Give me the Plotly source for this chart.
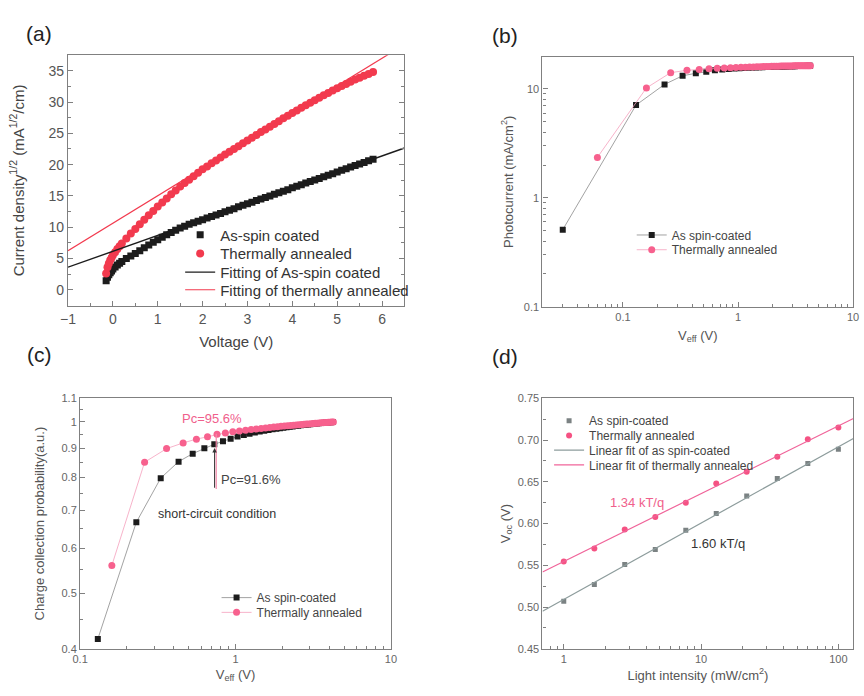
import math
import plotly.graph_objects as go

W, H = 864, 696
FONT = "Liberation Sans, Arial, sans-serif"

# ---------------- Panel (a) data ----------------
V_AS = [-0.15, -0.12, -0.09, -0.06, -0.03, 0.0, 0.05, 0.1, 0.15, 0.2, 0.3, 0.4, 0.5, 0.6, 0.7, 0.8, 0.9,
        1.0, 1.1, 1.2, 1.3, 1.4, 1.5, 1.6, 1.7, 1.8, 1.9, 2.0, 2.1, 2.2, 2.3, 2.4, 2.5, 2.6, 2.7, 2.8, 2.9,
        3.0, 3.1, 3.2, 3.3, 3.4, 3.5, 3.6, 3.7, 3.8, 3.9, 4.0, 4.1, 4.2, 4.3, 4.4, 4.5, 4.6, 4.7, 4.8, 4.9,
        5.0, 5.1, 5.2, 5.3, 5.4, 5.5, 5.6, 5.7, 5.8]
J_AS = [1.45, 2.0, 2.4, 2.7, 3.0, 3.3, 3.65, 3.95, 4.25, 4.5, 5.0, 5.4, 5.8, 6.25, 6.7, 7.15, 7.6,
        8.0, 8.4, 8.8, 9.15, 9.5, 9.85, 10.15, 10.45, 10.7, 10.95, 11.2, 11.45, 11.7, 11.95, 12.2, 12.45, 12.7, 12.95, 13.25, 13.5,
        13.75, 14.0, 14.25, 14.5, 14.75, 15.0, 15.25, 15.5, 15.75, 16.0, 16.3, 16.55, 16.8, 17.05, 17.3, 17.55, 17.8, 18.05, 18.3, 18.55,
        18.8, 19.1, 19.35, 19.6, 19.85, 20.1, 20.35, 20.6, 20.85]
V_TA = [-0.15, -0.12, -0.09, -0.06, -0.03, 0.0, 0.05, 0.1, 0.15, 0.2, 0.3, 0.4, 0.5, 0.6, 0.7, 0.8, 0.9,
        1.0, 1.1, 1.2, 1.3, 1.4, 1.5, 1.6, 1.7, 1.8, 1.9, 2.0, 2.1, 2.2, 2.3, 2.4, 2.5, 2.6, 2.7, 2.8, 2.9,
        3.0, 3.1, 3.2, 3.3, 3.4, 3.5, 3.6, 3.7, 3.8, 3.9, 4.0, 4.1, 4.2, 4.3, 4.4, 4.5, 4.6, 4.7, 4.8, 4.9,
        5.0, 5.1, 5.2, 5.3, 5.4, 5.5, 5.6, 5.7, 5.8]
J_TA = [2.6, 3.6, 4.2, 4.7, 5.1, 5.5, 6.0, 6.5, 6.95, 7.4, 8.2, 9.0, 9.7, 10.45, 11.2, 11.9, 12.6,
        13.3, 13.95, 14.6, 15.25, 15.85, 16.5, 17.05, 17.6, 18.15, 18.7, 19.25, 19.7, 20.2, 20.65, 21.15, 21.6, 22.05, 22.5, 22.95, 23.4,
        23.85, 24.3, 24.75, 25.2, 25.6, 26.05, 26.5, 26.95, 27.4, 27.8, 28.25, 28.65, 29.1, 29.5, 29.9, 30.3, 30.7, 31.1, 31.45, 31.85,
        32.2, 32.55, 32.9, 33.25, 33.6, 33.9, 34.2, 34.5, 34.8]
FIT_V = [-1.0, 6.5]
FIT_AS = [3.6, 22.66]
FIT_TA = [6.23, 39.2]

# ---------------- Panel (b) data ----------------
VEFF_B_AS = [0.03, 0.13, 0.23, 0.33, 0.43, 0.53, 0.63, 0.73, 0.83, 0.93, 1.03, 1.13, 1.23, 1.33, 1.43,
             1.53, 1.63, 1.73, 1.83, 1.93, 2.03, 2.13, 2.23, 2.33, 2.43, 2.53, 2.63, 2.73, 2.83, 2.93,
             3.03, 3.13, 3.23, 3.33, 3.43, 3.53, 3.63, 3.73, 3.83, 3.93, 4.03, 4.13, 4.23]
JPH_AS = [0.51, 7.1, 11.0, 13.2, 13.9, 14.4, 14.8, 15.05, 15.2, 15.35, 15.45, 15.55, 15.62, 15.68, 15.73,
          15.78, 15.82, 15.86, 15.89, 15.92, 15.95, 15.98, 16.0, 16.02, 16.05, 16.07, 16.09, 16.1, 16.12, 16.14,
          16.15, 16.17, 16.18, 16.2, 16.21, 16.22, 16.23, 16.24, 16.25, 16.26, 16.27, 16.28, 16.29]
VEFF_B_TA = [0.06, 0.16, 0.26, 0.36, 0.46, 0.56, 0.66, 0.76, 0.86, 0.96, 1.06, 1.16, 1.26, 1.36, 1.46,
             1.56, 1.66, 1.76, 1.86, 1.96, 2.06, 2.16, 2.26, 2.36, 2.46, 2.56, 2.66, 2.76, 2.86, 2.96,
             3.06, 3.16, 3.26, 3.36, 3.46, 3.56, 3.66, 3.76, 3.86, 3.96, 4.06, 4.16, 4.26]
JPH_TA = [2.35, 10.2, 14.1, 14.8, 15.1, 15.3, 15.45, 15.55, 15.65, 15.72, 15.78, 15.83, 15.88, 15.92, 15.96,
          15.99, 16.02, 16.05, 16.08, 16.1, 16.12, 16.14, 16.16, 16.18, 16.2, 16.21, 16.22, 16.24, 16.25, 16.26,
          16.27, 16.28, 16.29, 16.3, 16.31, 16.32, 16.32, 16.33, 16.33, 16.34, 16.34, 16.35, 16.35]

# ---------------- Panel (c) data ----------------
VEFF_C_AS = [0.13, 0.23, 0.33, 0.43, 0.53, 0.63, 0.73, 0.83, 0.93, 1.03, 1.13, 1.23, 1.33, 1.43,
             1.53, 1.63, 1.73, 1.83, 1.93, 2.03, 2.13, 2.23, 2.33, 2.43, 2.53, 2.63, 2.73, 2.83, 2.93,
             3.03, 3.13, 3.23, 3.33, 3.43, 3.53, 3.63, 3.73, 3.83, 3.93, 4.03, 4.13, 4.23]
PC_AS = [0.416, 0.667, 0.797, 0.852, 0.880, 0.899, 0.914, 0.925, 0.935, 0.943, 0.949, 0.954, 0.958, 0.962,
         0.965, 0.968, 0.971, 0.973, 0.975, 0.977, 0.979, 0.981, 0.982, 0.984, 0.985, 0.987, 0.988, 0.989, 0.990,
         0.991, 0.992, 0.993, 0.994, 0.995, 0.996, 0.996, 0.997, 0.998, 0.998, 0.999, 0.999, 1.0]
VEFF_C_TA = [0.16, 0.26, 0.36, 0.46, 0.56, 0.66, 0.76, 0.86, 0.96, 1.06, 1.16, 1.26, 1.36, 1.46,
             1.56, 1.66, 1.76, 1.86, 1.96, 2.06, 2.16, 2.26, 2.36, 2.46, 2.56, 2.66, 2.76, 2.86, 2.96,
             3.06, 3.16, 3.26, 3.36, 3.46, 3.56, 3.66, 3.76, 3.86, 3.96, 4.06, 4.16, 4.26]
PC_TA = [0.560, 0.850, 0.898, 0.919, 0.933, 0.942, 0.952, 0.957, 0.961, 0.964, 0.967, 0.970, 0.972, 0.974,
         0.976, 0.978, 0.980, 0.981, 0.983, 0.984, 0.985, 0.986, 0.987, 0.988, 0.989, 0.990, 0.991, 0.992, 0.992,
         0.993, 0.994, 0.995, 0.995, 0.996, 0.997, 0.997, 0.998, 0.998, 0.999, 0.999, 1.0, 1.0]
SC_ARROW_X = 0.733
SC_ARROW_Y = [0.762, 0.90]
SC_PINK_X = 0.751
SC_PINK_Y = [0.758, 0.954]

# ---------------- Panel (d) data ----------------
INTENSITY = [1.0, 1.67, 2.78, 4.64, 7.74, 12.9, 21.5, 35.9, 59.9, 100.0]
VOC_AS = [0.507, 0.527, 0.551, 0.569, 0.592, 0.612, 0.633, 0.654, 0.672, 0.689]
VOC_TA = [0.5545, 0.570, 0.593, 0.608, 0.625, 0.648, 0.662, 0.680, 0.701, 0.715]
FIT_I = [0.70, 128.6]
FIT_VOC_AS = [0.495, 0.702]
FIT_VOC_TA = [0.542, 0.726]

# ---------------- styles ----------------
BLACK = "#1c1c1c"
RED_A = "#f23a4e"
PINK = "#f7618e"
PINK_LINE = "#f5a0bc"
GRAY_LINE = "#8a8a8a"
D_GRAY = "#7b8283"
D_PINK = "#f55283"
D_GRAY_LINE = "#8d9c9c"
D_PINK_LINE = "#f0649a"
FRAME = "#808080"


def dom_x(p0, p1):
    return [p0 / W, p1 / W]


def dom_y(p0, p1):
    return [1 - p1 / H, 1 - p0 / H]


fig = go.Figure()

# (a)
fig.add_trace(go.Scatter(x=V_AS, y=J_AS, mode="markers", name="As-spin coated",
                         marker=dict(symbol="square", size=7, color=BLACK), xaxis="x", yaxis="y", legend="legend"))
fig.add_trace(go.Scatter(x=V_TA, y=J_TA, mode="markers", name="Thermally annealed",
                         marker=dict(symbol="circle", size=8, color=RED_A), xaxis="x", yaxis="y", legend="legend2"))
fig.add_trace(go.Scatter(x=FIT_V, y=FIT_AS, mode="lines", name="Fitting of As-spin coated",
                         line=dict(color=BLACK, width=1.4), xaxis="x", yaxis="y", legend="legend3"))
fig.add_trace(go.Scatter(x=FIT_V, y=FIT_TA, mode="lines", name="Fitting of thermally annealed",
                         line=dict(color=RED_A, width=1.2), xaxis="x", yaxis="y", legend="legend4"))

# (b)
fig.add_trace(go.Scatter(x=VEFF_B_AS, y=JPH_AS, mode="lines+markers", name="As spin-coated",
                         marker=dict(symbol="square", size=6, color=BLACK), line=dict(color=GRAY_LINE, width=0.8),
                         xaxis="x2", yaxis="y2", legend="legend5"))
fig.add_trace(go.Scatter(x=VEFF_B_TA, y=JPH_TA, mode="lines+markers", name="Thermally annealed",
                         marker=dict(symbol="circle", size=7, color=PINK), line=dict(color=PINK_LINE, width=0.8),
                         xaxis="x2", yaxis="y2", legend="legend6"))

# (c)
fig.add_trace(go.Scatter(x=VEFF_C_AS, y=PC_AS, mode="lines+markers", name="As spin-coated",
                         marker=dict(symbol="square", size=6, color=BLACK), line=dict(color=GRAY_LINE, width=0.8),
                         xaxis="x3", yaxis="y3", legend="legend7"))
fig.add_trace(go.Scatter(x=VEFF_C_TA, y=PC_TA, mode="lines+markers", name="Thermally annealed",
                         marker=dict(symbol="circle", size=7, color=PINK), line=dict(color=PINK_LINE, width=0.8),
                         xaxis="x3", yaxis="y3", legend="legend8"))

# (d)
fig.add_trace(go.Scatter(x=INTENSITY, y=VOC_AS, mode="markers", name="As spin-coated",
                         marker=dict(symbol="square", size=5, color=D_GRAY), xaxis="x4", yaxis="y4", legend="legend9"))
fig.add_trace(go.Scatter(x=INTENSITY, y=VOC_TA, mode="markers", name="Thermally annealed",
                         marker=dict(symbol="circle", size=6, color=D_PINK), xaxis="x4", yaxis="y4", legend="legend10"))
fig.add_trace(go.Scatter(x=FIT_I, y=FIT_VOC_AS, mode="lines", name="Linear fit of as spin-coated",
                         line=dict(color=D_GRAY_LINE, width=1.2), xaxis="x4", yaxis="y4", legend="legend11"))
fig.add_trace(go.Scatter(x=FIT_I, y=FIT_VOC_TA, mode="lines", name="Linear fit of thermally annealed",
                         line=dict(color=D_PINK_LINE, width=1.2), xaxis="x4", yaxis="y4", legend="legend12"))


def axis(domain, anchor, **kw):
    d = dict(domain=domain, anchor=anchor, showline=True, linecolor=FRAME, linewidth=1.3, mirror=True,
             ticks="inside", ticklen=5, tickcolor=FRAME, tickwidth=1, showgrid=False, zeroline=False)
    d.update(kw)
    return d


def log_minor(lo_dec, hi_dec):
    return [m * 10 ** e for e in range(lo_dec, hi_dec) for m in range(2, 10)]


TF_A = dict(family=FONT, size=14, color="#555555")
TF = dict(family=FONT, size=11, color="#666666")
TITLE_A = dict(family=FONT, size=15, color="#444444")
TITLE = dict(family=FONT, size=13, color="#555555")

xa_dom, ya_dom = dom_x(61, 403), dom_y(50, 305)
xb_dom, yb_dom = dom_x(543.3, 859), dom_y(51.7, 306)
xc_dom, yc_dom = dom_x(73.3, 389.3), dom_y(399.3, 654)
xd_dom, yd_dom = dom_x(543.3, 859.3), dom_y(399.3, 654)

fig.update_layout(
    width=W, height=H, margin=dict(l=0, r=0, t=0, b=0),
    paper_bgcolor="white", plot_bgcolor="white",
    font=dict(family=FONT), showlegend=True,
    xaxis=axis(xa_dom, "y", range=[-1, 6.5], dtick=1, tick0=0, tickfont=TF_A,
               minor=dict(ticks="inside", ticklen=3, dtick=0.5, tick0=0, tickcolor=FRAME),
               title=dict(text="Voltage (V)", font=TITLE_A, standoff=10)),
    yaxis=axis(ya_dom, "x", range=[-2.56, 37.5], dtick=5, tick0=0, tickfont=TF_A, mirror="allticks",
               minor=dict(ticks="inside", ticklen=3, dtick=2.5, tick0=0, tickcolor=FRAME),
               title=dict(text="Current density<sup>1/2</sup> (mA<sup>1/2</sup>/cm)", font=TITLE_A, standoff=20)),
    xaxis2=axis(xb_dom, "y2", type="log", range=[math.log10(0.02), 1.0], tickvals=[0.1, 1, 10],
                ticktext=["0.1", "1", "10"], tickfont=TF,
                minor=dict(ticks="inside", ticklen=3, tickvals=log_minor(-2, 1), tickcolor=FRAME),
                title=dict(text="V<sub>eff</sub> (V)", font=TITLE, standoff=8)),
    yaxis2=axis(yb_dom, "x2", type="log", range=[-1, math.log10(19.7)], tickvals=[0.1, 1, 10],
                ticktext=["0.1", "1", "10"], tickfont=TF,
                minor=dict(ticks="inside", ticklen=3, tickvals=log_minor(-1, 2), tickcolor=FRAME),
                title=dict(text="Photocurrent (mA/cm<sup>2</sup>)", font=TITLE, standoff=7)),
    xaxis3=axis(xc_dom, "y3", type="log", range=[-1, 1], tickvals=[0.1, 1, 10],
                ticktext=["0.1", "1", "10"], tickfont=TF,
                minor=dict(ticks="inside", ticklen=3, tickvals=log_minor(-1, 1), tickcolor=FRAME),
                title=dict(text="V<sub>eff</sub> (V)", font=TITLE, standoff=5)),
    yaxis3=axis(yc_dom, "x3", type="log", range=[math.log10(0.4), math.log10(1.1)],
                tickvals=[0.4, 0.5, 0.6, 0.7, 0.8, 0.9, 1.0, 1.1],
                ticktext=["0.4", "0.5", "0.6", "0.7", "0.8", "0.9", "1", "1.1"], tickfont=TF,
                minor=dict(ticks="inside", ticklen=3, tickvals=[0.45, 0.55, 0.65, 0.75, 0.85, 0.95, 1.05],
                           tickcolor=FRAME),
                title=dict(text="Charge collection probability(a.u.)", font=TITLE, standoff=13)),
    xaxis4=axis(xd_dom, "y4", type="log", range=[math.log10(0.70), math.log10(128.6)],
                tickvals=[1, 10, 100], ticktext=["1", "10", "100"], tickfont=TF,
                minor=dict(ticks="inside", ticklen=3, tickvals=log_minor(-1, 3), tickcolor=FRAME),
                title=dict(text="Light intensity (mW/cm<sup>2</sup>)", font=TITLE, standoff=6)),
    yaxis4=axis(yd_dom, "x4", range=[0.45, 0.75], dtick=0.05, tick0=0.45, tickformat=".2f", tickfont=TF,
                minor=dict(ticks="inside", ticklen=3, dtick=0.025, tick0=0.45, tickcolor=FRAME),
                title=dict(text="V<sub>oc</sub> (V)", font=TITLE, standoff=4)),
)


def leg(xpx, ypx, size, color):
    return dict(x=xpx / W, y=1 - ypx / H, xanchor="left", yanchor="middle", bgcolor="rgba(0,0,0,0)",
                borderwidth=0, font=dict(family=FONT, size=size, color=color), itemwidth=30,
                tracegroupgap=0, visible=True)


fig.update_layout(
    legend=leg(175, 233, 15, "#333333"),
    legend2=leg(175, 252, 15, "#333333"),
    legend3=leg(175, 271, 15, "#333333"),
    legend4=leg(175, 289, 15, "#333333"),
    legend5=leg(634, 233, 12, "#444444"),
    legend6=leg(634, 248, 12, "#444444"),
    legend7=leg(212, 602, 12, "#444444"),
    legend8=leg(212, 617, 12, "#444444"),
    legend9=leg(550, 422, 12, "#444444"),
    legend10=leg(550, 437, 12, "#444444"),
    legend11=leg(550, 452, 12, "#444444"),
    legend12=leg(550, 467, 12, "#444444"),
)

ann = []
# panel labels
for lab, xp, yp in [("(a)", 32, 28), ("(b)", 505, 30), ("(c)", 32, 355), ("(d)", 505, 357)]:
    ann.append(dict(text=lab, x=xp / W, y=1 - yp / H, xref="paper", yref="paper", showarrow=False,
                    xanchor="center", yanchor="middle", font=dict(family=FONT, size=21, color="#222222")))

# (c) annotations
ann.append(dict(text="Pc=95.6%", x=math.log10(0.708), y=math.log10(1.016), xref="x3", yref="y3",
                showarrow=False, font=dict(family=FONT, size=13, color="#f0608c")))
ann.append(dict(text="Pc=91.6%", x=math.log10(0.788), y=math.log10(0.793), xref="x3", yref="y3",
                xanchor="left", showarrow=False, font=dict(family=FONT, size=13, color="#444444")))
ann.append(dict(text="short-circuit condition", x=math.log10(0.308), y=math.log10(0.690), xref="x3",
                yref="y3", xanchor="left", showarrow=False, font=dict(family=FONT, size=12.5, color="#333333")))
ann.append(dict(text="", x=math.log10(SC_PINK_X), y=math.log10(SC_PINK_Y[1]), ax=math.log10(SC_PINK_X),
                ay=math.log10(SC_PINK_Y[0]), xref="x3", yref="y3", axref="x3", ayref="y3", showarrow=True,
                arrowhead=0, arrowwidth=1.2, arrowcolor="#f58aaa", standoff=0, startstandoff=0))
ann.append(dict(text="", x=math.log10(SC_ARROW_X), y=math.log10(SC_ARROW_Y[1]), ax=math.log10(SC_ARROW_X),
                ay=math.log10(SC_ARROW_Y[0]), xref="x3", yref="y3", axref="x3", ayref="y3", showarrow=True,
                arrowhead=2, arrowsize=0.9, arrowwidth=1, arrowcolor="#333333", standoff=0, startstandoff=0))

# (d) annotations
ann.append(dict(text="1.34 kT/q", x=math.log10(3.39), y=0.6247, xref="x4", yref="y4", showarrow=False,
                font=dict(family=FONT, size=13, color="#f0608c")))
ann.append(dict(text="1.60 kT/q", x=math.log10(13.35), y=0.5764, xref="x4", yref="y4", showarrow=False,
                font=dict(family=FONT, size=13, color="#333333")))

fig.update_layout(annotations=ann)

fig.write_html("out.html")
